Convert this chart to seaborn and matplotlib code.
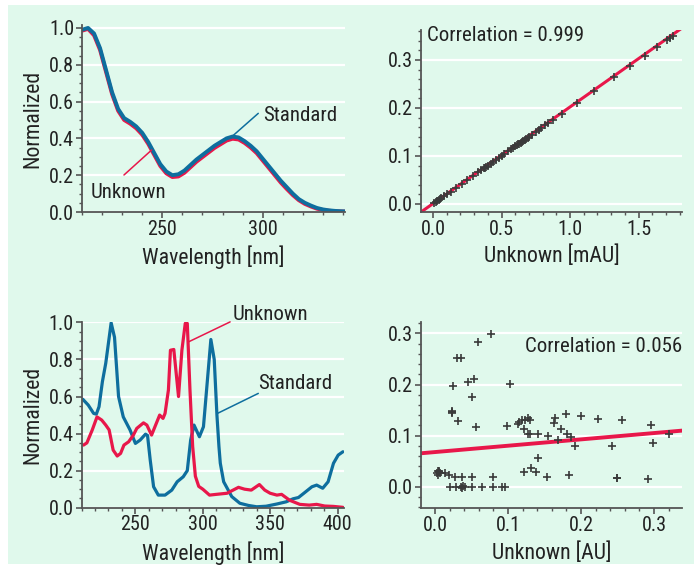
import numpy as np
import matplotlib
matplotlib.use("Agg")
import matplotlib.pyplot as plt
from matplotlib.patches import Rectangle
from matplotlib.ticker import MultipleLocator, FormatStrFormatter
import seaborn as sns

sns.set_theme(style="ticks")
plt.rcParams["font.family"] = ["Roboto Condensed", "Archivo Narrow", "DejaVu Sans"]

BG = "#e0f9ec"
BLUE = "#0e6e9e"
RED = "#e8174a"
INK = "#222222"
MARK = "#3a3a3a"

# --------------------------------------------------------------------------
# data
# --------------------------------------------------------------------------
# top left: matching spectra
tl_wl = [210, 213, 216, 219, 222, 225, 228, 231, 234, 237, 240, 243, 246, 249, 252,
         255, 258, 261, 264, 267, 270, 273, 276, 279, 282, 285, 288, 291, 294, 297,
         300, 303, 306, 309, 312, 315, 318, 321, 324, 327, 330, 333, 336, 339, 342]
tl_standard = [0.99, 1.00, 0.97, 0.89, 0.77, 0.65, 0.56, 0.51, 0.49, 0.465, 0.43, 0.38,
               0.32, 0.26, 0.22, 0.20, 0.205, 0.225, 0.255, 0.285, 0.31, 0.335, 0.36,
               0.38, 0.40, 0.41, 0.405, 0.385, 0.36, 0.33, 0.29, 0.25, 0.21, 0.17, 0.135,
               0.10, 0.07, 0.05, 0.035, 0.022, 0.014, 0.009, 0.006, 0.004, 0.003]
tl_unknown = [0.985, 0.995, 0.96, 0.88, 0.76, 0.64, 0.55, 0.50, 0.48, 0.455, 0.42, 0.37,
              0.31, 0.25, 0.21, 0.19, 0.193, 0.213, 0.243, 0.273, 0.298, 0.323, 0.348,
              0.368, 0.388, 0.398, 0.394, 0.375, 0.35, 0.32, 0.28, 0.24, 0.20, 0.16, 0.125,
              0.092, 0.064, 0.044, 0.03, 0.018, 0.011, 0.007, 0.004, 0.003, 0.002]

# top right: standard vs unknown, good match
tr_unknown = [0.01, 0.02, 0.03, 0.04, 0.05, 0.06, 0.08, 0.10, 0.13, 0.17, 0.21, 0.25, 0.29,
              0.33, 0.35, 0.37, 0.38, 0.39, 0.40, 0.42, 0.44, 0.46, 0.48, 0.50, 0.52, 0.55,
              0.57, 0.58, 0.60, 0.61, 0.62, 0.63, 0.64, 0.65, 0.66, 0.67, 0.68, 0.69, 0.70,
              0.72, 0.75, 0.77, 0.786, 0.818, 0.842, 0.874, 0.939, 1.049, 1.175, 1.321,
              1.438, 1.547, 1.637, 1.706, 1.730, 1.749]
tr_standard = [0.002, 0.004, 0.006, 0.008, 0.010, 0.012, 0.016, 0.020, 0.026, 0.034, 0.042,
               0.050, 0.058, 0.066, 0.070, 0.074, 0.076, 0.078, 0.080, 0.084, 0.088, 0.092,
               0.096, 0.100, 0.104, 0.110, 0.114, 0.116, 0.120, 0.122, 0.124, 0.126, 0.128,
               0.130, 0.132, 0.134, 0.136, 0.138, 0.140, 0.144, 0.150, 0.154, 0.158, 0.164,
               0.168, 0.175, 0.188, 0.210, 0.235, 0.264, 0.288, 0.309, 0.328, 0.341, 0.346,
               0.350]
tr_fit = (0.2013, 0.0009)  # slope, intercept
tr_corr = "Correlation = 0.999"

# bottom left: mismatching spectra
bl_std_wl = [211, 215, 219, 221, 223, 225.5, 228, 232, 234.5, 237.5, 241, 246, 250, 253.5,
             257.5, 259, 261, 263.5, 267, 272, 277, 281, 285.5, 288.5, 291, 293.5, 297.5,
             300.5, 306, 308.5, 310.5, 312, 313, 315.5, 321.5, 327.5, 334, 340, 347, 355,
             362, 367, 371, 375, 381, 384.5, 389, 393, 397, 400.5, 404]
bl_standard = [0.585, 0.554, 0.509, 0.505, 0.545, 0.68, 0.78, 0.998, 0.92, 0.60, 0.49, 0.42,
               0.347, 0.365, 0.397, 0.39, 0.257, 0.113, 0.068, 0.068, 0.095, 0.14, 0.167,
               0.2, 0.365, 0.446, 0.383, 0.437, 0.908, 0.80, 0.50, 0.33, 0.24, 0.14, 0.06,
               0.024, 0.012, 0.005, 0.008, 0.02, 0.032, 0.048, 0.055, 0.078, 0.113, 0.122,
               0.105, 0.14, 0.24, 0.284, 0.302]
bl_unk_wl = [211.5, 214, 218, 221.5, 225, 228, 230.5, 233.5, 236.5, 239, 241.5, 245, 248.5,
             251, 256, 258.5, 262, 265, 268, 270.5, 272, 274.5, 276, 278.5, 282, 284.5,
             287, 288.5, 290.5, 292.5, 294.5, 297, 300, 305, 310, 318, 322.5, 326.5, 331,
             336, 342, 346, 350, 355, 358.5, 364.5, 372, 379, 384.5, 390.5, 397, 404]
bl_unknown = [0.338, 0.35, 0.42, 0.49, 0.473, 0.446, 0.42, 0.311, 0.279, 0.293, 0.338,
              0.356, 0.392, 0.428, 0.458, 0.446, 0.392, 0.446, 0.5, 0.482, 0.509, 0.635,
              0.85, 0.854, 0.6, 0.85, 0.995, 0.995, 0.635, 0.33, 0.17, 0.115, 0.1, 0.068,
              0.072, 0.078, 0.095, 0.11, 0.1, 0.095, 0.125, 0.095, 0.078, 0.068, 0.072,
              0.04, 0.018, 0.014, 0.018, 0.009, 0.007, 0.002]

# bottom right: standard vs unknown, poor match
br_unknown = [0.0763, 0.0589, 0.0297, 0.0356, 0.025, 0.0457, 0.0534, 0.0507, 0.1027, 0.0237,
              0.0237, 0.0237, 0.031, 0.0557, 0.099, 0.1132, 0.115, 0.1187, 0.123, 0.128,
              0.130, 0.122, 0.128, 0.130, 0.1416, 0.155, 0.1406, 0.122, 0.131, 0.139, 0.153,
              0.165, 0.163, 0.1795, 0.1995, 0.172, 0.181, 0.187, 0.1685, 0.1918, 0.184,
              0.2237, 0.2557, 0.242, 0.249, 0.250, 0.296, 0.298, 0.292, 0.321,
              0.004, 0.005, 0.006, 0.003, 0.007, 0.004, 0.0137, 0.0196, 0.0274, 0.0365,
              0.0502, 0.080, 0.0205, 0.0288, 0.035, 0.037, 0.039, 0.041, 0.0502, 0.064,
              0.080, 0.0913, 0.096]
br_standard = [0.298, 0.284, 0.251, 0.251, 0.197, 0.204, 0.211, 0.175, 0.202, 0.149, 0.147,
               0.144, 0.1286, 0.116, 0.119, 0.122, 0.127, 0.130, 0.130, 0.134, 0.130, 0.112,
               0.104, 0.1025, 0.103, 0.100, 0.0555, 0.0294, 0.036, 0.0294, 0.0184, 0.135,
               0.124, 0.142, 0.138, 0.1135, 0.103, 0.098, 0.0914, 0.080, 0.0229, 0.1325,
               0.1305, 0.0797, 0.0176, 0.0170, 0.121, 0.085, 0.015, 0.1025,
               0.030, 0.028, 0.031, 0.026, 0.027, 0.022, 0.0274, 0.023, 0.0196, 0.018,
               0.018, 0.018, 0.0, 0.0, 0.0, -0.002, 0.001, 0.0, 0.0, 0.0, 0.0, 0.0, 0.0]
br_fit = (0.124, 0.0678)
br_corr = "Correlation = 0.056"

FS_TICK = 14.5
FS_LABEL = 15.7
FS_NOTE = 15


def style_axes(ax, xmaj, xmin, ymaj, ymin):
    ax.set_facecolor("none")
    for side in ["top", "right"]:
        ax.spines[side].set_visible(False)
    for side in ["left", "bottom"]:
        ax.spines[side].set_color("#555555")
        ax.spines[side].set_linewidth(1.3)
    ax.xaxis.set_major_locator(MultipleLocator(xmaj))
    ax.xaxis.set_minor_locator(MultipleLocator(xmin))
    ax.yaxis.set_major_locator(MultipleLocator(ymaj))
    ax.yaxis.set_minor_locator(MultipleLocator(ymin))
    ax.tick_params(which="major", length=4, width=1.2, color="#555555",
                   labelsize=FS_TICK, labelcolor=INK, pad=1.5)
    ax.tick_params(which="minor", length=2.5, width=1.0, color="#555555")
    ax.yaxis.grid(True, which="major", color="white", linewidth=1.6)
    ax.xaxis.grid(False)
    ax.set_axisbelow(True)
    ax.xaxis.set_major_formatter(FormatStrFormatter("%g" if xmaj >= 1 else "%.1f"))
    ax.yaxis.set_major_formatter(FormatStrFormatter("%.1f"))


def fig_axes(fig, left, top, right, bottom):
    W, H = 700, 569
    return fig.add_axes([left / W, 1 - bottom / H, (right - left) / W, (bottom - top) / H])


fig = plt.figure(figsize=(7, 5.69), dpi=100)
fig.patch.set_facecolor("white")
fig.patches.append(Rectangle((8 / 700, 5 / 569), 686 / 700, 559 / 569,
                             transform=fig.transFigure, facecolor=BG,
                             edgecolor="none", zorder=-10))

# --------------------------------------------------------------------------
# top left
# --------------------------------------------------------------------------
ax1 = fig_axes(fig, 82, 25, 345, 212)
sns.lineplot(x=tl_wl, y=tl_unknown, ax=ax1, color=RED, linewidth=2.8)
sns.lineplot(x=tl_wl, y=tl_standard, ax=ax1, color=BLUE, linewidth=2.8)
ax1.set_xlim(210, 341)
ax1.set_ylim(0, 1.016)
style_axes(ax1, 50, 10, 0.2, 0.05)
ax1.set_xlabel("Wavelength [nm]", fontsize=FS_LABEL, color=INK, labelpad=5)
ax1.set_ylabel("Normalized", fontsize=FS_LABEL, color=INK, labelpad=4)
ax1.plot([297.8, 284.6], [0.536, 0.409], color=BLUE, lw=1.1)
ax1.text(300.1, 0.527, "Standard", fontsize=FS_NOTE, color=INK, va="center")
ax1.plot([230.9, 244.7], [0.201, 0.337], color=RED, lw=1.1)
ax1.text(214.3, 0.105, "Unknown", fontsize=FS_NOTE, color=INK, va="center")

# --------------------------------------------------------------------------
# top right
# --------------------------------------------------------------------------
ax2 = fig_axes(fig, 421, 30, 682, 212)
ax2.set_xlim(-0.088, 1.817)
ax2.set_ylim(-0.0167, 0.3625)
fx = np.array(ax2.get_xlim())
sns.lineplot(x=fx, y=tr_fit[0] * fx + tr_fit[1], ax=ax2, color=RED, linewidth=2.2)
sns.scatterplot(x=tr_unknown, y=tr_standard, ax=ax2, marker="+", s=30,
                color=MARK, linewidth=1.2, zorder=3)
style_axes(ax2, 0.5, 0.1, 0.1, 0.02)
ax2.set_xlabel("Unknown [mAU]", fontsize=FS_LABEL, color=INK, labelpad=5)
ax2.text(-0.045, 0.35, tr_corr, fontsize=FS_NOTE, color=INK, va="center", ha="left")

# --------------------------------------------------------------------------
# bottom left
# --------------------------------------------------------------------------
ax3 = fig_axes(fig, 81.5, 321.7, 344, 507.7)
sns.lineplot(x=bl_std_wl, y=bl_standard, ax=ax3, color=BLUE, linewidth=2.3)
sns.lineplot(x=bl_unk_wl, y=bl_unknown, ax=ax3, color=RED, linewidth=2.3)
ax3.set_xlim(210, 404.8)
ax3.set_ylim(0, 1.004)
style_axes(ax3, 50, 10, 0.2, 0.05)
ax3.set_xlabel("Wavelength [nm]", fontsize=FS_LABEL, color=INK, labelpad=5)
ax3.set_ylabel("Normalized", fontsize=FS_LABEL, color=INK, labelpad=4)
ax3.plot([320.3, 289.4], [1.003, 0.895], color=RED, lw=1.1, clip_on=False)
ax3.text(322.3, 1.045, "Unknown", fontsize=FS_NOTE, color=INK, va="center", clip_on=False)
ax3.plot([341.2, 310.9], [0.617, 0.509], color=BLUE, lw=1.1)
ax3.text(341.2, 0.673, "Standard", fontsize=FS_NOTE, color=INK, va="center")

# --------------------------------------------------------------------------
# bottom right
# --------------------------------------------------------------------------
ax4 = fig_axes(fig, 421, 321.7, 682, 508.3)
ax4.set_xlim(-0.0192, 0.3384)
ax4.set_ylim(-0.0423, 0.323)
fx = np.array(ax4.get_xlim())
sns.lineplot(x=fx, y=br_fit[0] * fx + br_fit[1], ax=ax4, color=RED, linewidth=2.8)
sns.scatterplot(x=br_unknown, y=br_standard, ax=ax4, marker="+", s=34,
                color=MARK, linewidth=1.2, zorder=3)
style_axes(ax4, 0.1, 0.02, 0.1, 0.02)
ax4.set_xlabel("Unknown [AU]", fontsize=FS_LABEL, color=INK, labelpad=5)
ax4.text(1.0, 0.275, br_corr, fontsize=FS_NOTE, color=INK, va="center", ha="right",
         transform=ax4.get_yaxis_transform())

fig.savefig("out.png", dpi=100)
